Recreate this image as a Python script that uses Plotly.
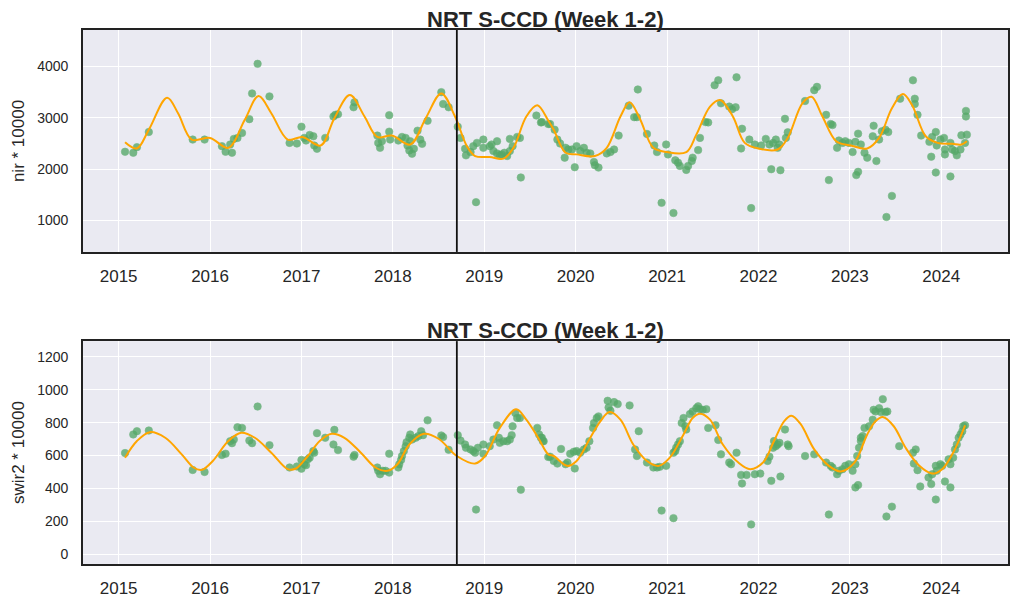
import plotly.graph_objects as go
from plotly.subplots import make_subplots

# ---------------- data (decimal years) ----------------
nir_t = [2015.07, 2015.16, 2015.20, 2015.33, 2015.81, 2015.94, 2016.13, 2016.17, 2016.22, 2016.24,
         2016.26, 2016.30, 2016.35, 2016.43, 2016.46, 2016.52, 2016.65, 2016.87, 2016.95, 2017.00,
         2017.03, 2017.05, 2017.09, 2017.13, 2017.14, 2017.17, 2017.26, 2017.35, 2017.37, 2017.40,
         2017.57, 2017.58, 2017.83, 2017.84, 2017.86, 2017.88, 2017.96, 2017.96, 2017.97, 2018.06,
         2018.10, 2018.14, 2018.16, 2018.18, 2018.21, 2018.23, 2018.19, 2018.27, 2018.30, 2018.32,
         2018.38, 2018.53, 2018.55, 2018.61, 2018.71, 2018.74, 2018.79, 2018.80, 2018.85, 2018.88,
         2018.91, 2018.92, 2018.99, 2018.99, 2019.06, 2019.08, 2019.14, 2019.10, 2019.14, 2019.17,
         2019.19, 2019.22, 2019.25, 2019.28, 2019.31, 2019.28, 2019.36, 2019.39, 2019.40, 2019.57,
         2019.62, 2019.70, 2019.63, 2019.72, 2019.77, 2019.80, 2019.83, 2019.89, 2019.88, 2019.92,
         2019.96, 2020.01, 2020.05, 2020.09, 2020.12, 2020.16, 2019.99, 2020.20, 2020.21, 2020.25,
         2020.34, 2020.38, 2020.42, 2020.47, 2020.58, 2020.64, 2020.67, 2020.68, 2020.78, 2020.86,
         2020.89, 2020.94, 2020.99, 2021.01, 2021.07, 2021.09, 2021.12, 2021.14, 2021.21, 2021.23,
         2021.27, 2021.28, 2021.34, 2021.36, 2021.42, 2021.45, 2021.52, 2021.56, 2021.59, 2021.68,
         2021.71, 2021.75, 2021.76, 2021.82, 2021.81, 2021.90, 2021.92, 2021.96, 2022.03, 2022.08,
         2022.12, 2022.14, 2022.16, 2022.19, 2022.21, 2022.23, 2022.24, 2022.29, 2022.30, 2022.32,
         2022.51, 2022.61, 2022.64, 2022.74, 2022.79, 2022.81, 2022.77, 2022.86, 2022.88, 2022.92,
         2022.95, 2022.99, 2023.03, 2023.06, 2023.07, 2023.09, 2023.09, 2023.12, 2023.16, 2023.19,
         2023.25, 2023.26, 2023.29, 2023.32, 2023.35, 2023.39, 2023.42, 2023.40, 2023.46, 2023.55,
         2023.69, 2023.71, 2023.71, 2023.74, 2023.78, 2023.87, 2023.89, 2023.90, 2023.94, 2023.95,
         2023.99, 2024.03, 2024.04, 2024.04, 2023.94, 2024.10, 2024.10, 2024.12, 2024.15, 2024.17,
         2024.21, 2024.22, 2024.26, 2024.28, 2024.27, 2024.27]
nir_v = [2337, 2318, 2427, 2722, 2575, 2575, 2446, 2337, 2478, 2318,
         2588, 2607, 2703, 2973, 3474, 4051, 3416, 2510, 2498, 2825,
         2607, 2556, 2665, 2639, 2459, 2395, 2607, 3024, 3056, 3069,
         3204, 3300, 2652, 2510, 2414, 2543, 3050, 2729, 2575, 2556,
         2626, 2607, 2459, 2363, 2299, 2395, 2543, 2748, 2575, 2491,
         2941, 3499, 3268, 3204, 2825, 2607, 2395, 2267, 2331, 2446,
         1355, 2510, 2414, 2575, 2446, 2478, 2543, 2350, 2305, 2267,
         2286, 2318, 2254, 2350, 2446, 2588, 2626, 2607, 1836, 3043,
         2909, 2877, 2915, 2877, 2767, 2575, 2498, 2414, 2222, 2382,
         2382, 2446, 2350, 2414, 2318, 2305, 2036, 2138, 2074, 2029,
         2305, 2331, 2382, 2652, 3236, 3011, 3011, 3551, 2684, 2459,
         2331, 1342, 2478, 2286, 1143, 2170, 2125, 2061, 1984, 2061,
         2157, 2222, 2369, 2607, 2915, 2909, 3634, 3730, 3281, 3217,
         3165, 3204, 3788, 2786, 2401, 2575, 1239, 2478, 2459, 2588,
         2478, 1997, 2510, 2575, 2414, 2478, 1978, 2979, 2607, 2716,
         3326, 3538, 3602, 3056, 2877, 2857, 1785, 2414, 2556, 2510,
         2543, 2510, 2331, 2530, 1882, 1946, 2690, 2478, 2318, 2222,
         2639, 2844, 2157, 2575, 2735, 2767, 2722, 1066, 1477, 3371,
         3730, 3371, 3268, 3056, 2652, 2530, 2241, 2626, 2722, 2459,
         2575, 2607, 2382, 2286, 1933, 1856, 2510, 2382, 2350, 2267,
         2382, 2658, 2510, 2671, 3133, 3024]

nir_fit_t = [2015.07, 2015.20, 2015.33, 2015.53, 2015.65, 2015.80, 2016.00, 2016.20, 2016.38, 2016.53,
             2016.67, 2016.85, 2017.01, 2017.21, 2017.36, 2017.53, 2017.69, 2017.83, 2017.99, 2018.19,
             2018.36, 2018.53, 2018.68, 2018.81, 2018.90, 2019.06, 2019.21, 2019.32, 2019.46, 2019.58,
             2019.70, 2019.76, 2019.89, 2020.01, 2020.21, 2020.34, 2020.49, 2020.59, 2020.70, 2020.85,
             2021.00, 2021.21, 2021.32, 2021.47, 2021.58, 2021.72, 2021.85, 2022.01, 2022.21, 2022.32,
             2022.48, 2022.58, 2022.70, 2022.85, 2023.01, 2023.19, 2023.32, 2023.46, 2023.58, 2023.68,
             2023.83, 2023.96, 2024.12, 2024.22, 2024.28]
nir_fit_v = [2523, 2401, 2767, 3390, 3088, 2575, 2607, 2414, 2960, 3422,
             3088, 2575, 2626, 2459, 2992, 3441, 3024, 2626, 2652, 2478,
             2992, 3474, 3024, 2446, 2254, 2235, 2203, 2414, 3024, 3242,
             2947, 2767, 2318, 2286, 2254, 2414, 3024, 3300, 2992, 2414,
             2331, 2331, 2671, 3217, 3345, 3024, 2510, 2395, 2382, 2607,
             3281, 3409, 3024, 2543, 2459, 2401, 2607, 3185, 3461, 3249,
             2639, 2510, 2491, 2478, 2543]

swir_t = [2015.07, 2015.16, 2015.20, 2015.33, 2015.81, 2015.94, 2016.13, 2016.17, 2016.22, 2016.24,
          2016.26, 2016.30, 2016.35, 2016.43, 2016.46, 2016.52, 2016.65, 2016.87, 2016.95, 2017.00,
          2017.00, 2017.03, 2017.05, 2017.07, 2017.09, 2017.13, 2017.14, 2017.17, 2017.26, 2017.36,
          2017.35, 2017.40, 2017.57, 2017.58, 2017.83, 2017.84, 2017.86, 2017.89, 2017.92, 2017.96,
          2017.96, 2018.06, 2018.07, 2018.09, 2018.10, 2018.12, 2018.14, 2018.15, 2018.18, 2018.19,
          2018.21, 2018.25, 2018.28, 2018.31, 2018.33, 2018.38, 2018.53, 2018.55, 2018.61, 2018.71,
          2018.74, 2018.79, 2018.80, 2018.85, 2018.88, 2018.90, 2018.93, 2018.99, 2018.99, 2018.91,
          2019.06, 2019.10, 2019.14, 2019.16, 2019.17, 2019.21, 2019.25, 2019.28, 2019.30, 2019.31,
          2019.34, 2019.36, 2019.39, 2019.40, 2019.58, 2019.60, 2019.62, 2019.64, 2019.70, 2019.63,
          2019.65, 2019.72, 2019.76, 2019.80, 2019.84, 2019.89, 2019.91, 2019.94, 2019.99, 2019.98,
          2020.01, 2020.05, 2020.09, 2020.12, 2020.15, 2020.19, 2020.20, 2020.23, 2020.25, 2020.35,
          2020.36, 2020.38, 2020.42, 2020.46, 2020.59, 2020.65, 2020.67, 2020.69, 2020.78, 2020.85,
          2020.89, 2020.92, 2020.99, 2020.94, 2021.07, 2021.07, 2021.09, 2021.10, 2021.12, 2021.14,
          2021.16, 2021.18, 2021.20, 2021.21, 2021.25, 2021.28, 2021.32, 2021.34, 2021.36, 2021.39,
          2021.43, 2021.45, 2021.53, 2021.56, 2021.59, 2021.68, 2021.70, 2021.76, 2021.81, 2021.82,
          2021.87, 2021.92, 2021.96, 2022.02, 2022.10, 2022.12, 2022.14, 2022.16, 2022.17, 2022.19,
          2022.21, 2022.23, 2022.24, 2022.29, 2022.32, 2022.33, 2022.51, 2022.61, 2022.74, 2022.77,
          2022.79, 2022.81, 2022.86, 2022.88, 2022.92, 2022.95, 2022.99, 2023.03, 2023.06, 2023.09,
          2023.06, 2023.08, 2023.10, 2023.12, 2023.12, 2023.14, 2023.16, 2023.21, 2023.25, 2023.26,
          2023.28, 2023.32, 2023.34, 2023.36, 2023.39, 2023.41, 2023.40, 2023.46, 2023.54, 2023.69,
          2023.72, 2023.70, 2023.74, 2023.77, 2023.86, 2023.89, 2023.90, 2023.94, 2023.95, 2023.99,
          2024.01, 2023.94, 2024.04, 2024.10, 2024.08, 2024.10, 2024.13, 2024.15, 2024.17, 2024.19,
          2024.21, 2024.23, 2024.24, 2024.26]
swir_v = [615, 728, 748, 752, 512, 500, 603, 611, 687, 675,
          697, 772, 768, 691, 675, 898, 663, 527, 533, 573,
          520, 547, 541, 577, 587, 627, 617, 736, 708, 756,
          667, 633, 593, 603, 527, 507, 486, 507, 507, 496,
          611, 527, 547, 573, 597, 627, 657, 681, 708, 728,
          697, 708, 718, 748, 724, 814, 722, 712, 635, 724,
          691, 667, 647, 637, 627, 617, 647, 611, 667, 271,
          657, 697, 784, 708, 677, 687, 687, 697, 724, 778,
          858, 828, 828, 392, 768, 728, 708, 688, 591, 708,
          687, 593, 567, 551, 640, 547, 557, 611, 521, 623,
          627, 617, 637, 647, 687, 768, 798, 828, 838, 933,
          892, 872, 925, 913, 905, 637, 597, 748, 557, 527,
          527, 531, 537, 265, 219, 617, 627, 647, 667, 687,
          798, 828, 778, 758, 852, 868, 888, 899, 882, 878,
          882, 768, 784, 695, 607, 557, 547, 617, 482, 430,
          482, 181, 486, 490, 567, 593, 446, 647, 688, 657,
          667, 677, 472, 758, 667, 657, 597, 607, 557, 241,
          537, 527, 486, 507, 517, 537, 547, 507, 406, 420,
          547, 597, 647, 688, 708, 718, 768, 778, 818, 878,
          868, 888, 864, 943, 864, 868, 229, 289, 657, 617,
          637, 551, 511, 412, 466, 426, 486, 537, 507, 547,
          537, 332, 442, 406, 577, 547, 587, 637, 667, 708,
          728, 748, 778, 784]

swir_fit_t = [2015.07, 2015.20, 2015.34, 2015.51, 2015.69, 2015.82, 2015.91, 2016.03, 2016.20, 2016.34,
              2016.49, 2016.67, 2016.85, 2016.94, 2017.07, 2017.20, 2017.33, 2017.47, 2017.65, 2017.81,
              2017.94, 2018.05, 2018.18, 2018.34, 2018.50, 2018.70, 2018.90, 2019.01, 2019.17, 2019.35,
              2019.46, 2019.59, 2019.70, 2019.76, 2019.91, 2020.01, 2020.16, 2020.27, 2020.37, 2020.49,
              2020.63, 2020.78, 2020.91, 2021.03, 2021.18, 2021.28, 2021.36, 2021.47, 2021.61, 2021.78,
              2021.91, 2022.05, 2022.17, 2022.28, 2022.36, 2022.46, 2022.61, 2022.77, 2022.90, 2023.05,
              2023.19, 2023.28, 2023.36, 2023.48, 2023.61, 2023.76, 2023.90, 2024.01, 2024.12, 2024.19,
              2024.26]
swir_fit_v = [587, 688, 742, 708, 607, 527, 513, 567, 688, 738,
              708, 617, 517, 521, 597, 688, 732, 708, 617, 527,
              507, 547, 667, 732, 702, 597, 551, 597, 768, 882,
              818, 708, 607, 597, 537, 567, 708, 808, 864, 818,
              667, 567, 537, 587, 728, 828, 854, 818, 667, 557,
              517, 557, 688, 808, 842, 792, 637, 537, 503, 557,
              728, 808, 834, 778, 647, 537, 490, 517, 607, 688,
              784]

break_t = 2018.70
year_ticks = [2015, 2016, 2017, 2018, 2019, 2020, 2021, 2022, 2023, 2024]
title_text = "NRT S-CCD (Week 1-2)"

# ---------------- figure ----------------
fig = make_subplots(rows=2, cols=1, vertical_spacing=0.1671)

GREEN = "#55a868"
ORANGE = "#FFA500"

def add_panel(row, t, v, ft, fv):
    fig.add_trace(go.Scatter(x=t, y=v, mode="markers",
                             marker=dict(color=GREEN, size=7.5, opacity=0.78,
                                         line=dict(width=0.6, color=GREEN)),
                             showlegend=False, hoverinfo="skip"), row=row, col=1)
    fig.add_trace(go.Scatter(x=ft, y=fv, mode="lines", line=dict(color=ORANGE, width=2, shape="spline", smoothing=1.0),
                             showlegend=False, hoverinfo="skip"), row=row, col=1)

add_panel(1, nir_t, nir_v, nir_fit_t, nir_fit_v)
add_panel(2, swir_t, swir_v, swir_fit_t, swir_fit_v)

axis_common = dict(showgrid=True, gridcolor="white", gridwidth=1.2, zeroline=False,
                   showline=True, linecolor="#222222", linewidth=1.8, mirror=True,
                   ticks="outside", tickcolor="rgba(0,0,0,0)")

for r in (1, 2):
    fig.update_xaxes(range=[2014.61, 2024.73], tickvals=year_ticks,
                     ticktext=[str(y) for y in year_ticks], ticklen=8,
                     tickfont=dict(size=17, color="#262626"), row=r, col=1, **axis_common)

fig.update_yaxes(range=[385, 4710], tickvals=[1000, 2000, 3000, 4000], ticklen=10,
                 tickfont=dict(size=14, color="#262626"),
                 title=dict(text="nir * 10000", font=dict(size=17, color="#262626"), standoff=8),
                 row=1, col=1, **axis_common)
fig.update_yaxes(range=[-60, 1296], tickvals=[0, 200, 400, 600, 800, 1000, 1200], ticklen=10,
                 tickfont=dict(size=14, color="#262626"),
                 title=dict(text="swir2 * 10000", font=dict(size=17, color="#262626"), standoff=8),
                 row=2, col=1, **axis_common)

fig.update_layout(yaxis=dict(domain=[0.5844, 1.0]), yaxis2=dict(domain=[0.0, 0.4174]))

for r, yref in ((1, "y domain"), (2, "y2 domain")):
    fig.add_shape(type="line", x0=break_t, x1=break_t, y0=0, y1=1,
                  xref="x" if r == 1 else "x2", yref=yref,
                  line=dict(color="#111111", width=1.8))

for ytop in (1.0, 0.4174):
    fig.add_annotation(text="<b>" + title_text + "</b>", x=0.5, y=ytop, xref="paper", yref="paper",
                       xanchor="center", yanchor="bottom", showarrow=False, yshift=-4,
                       font=dict(size=22, color="#262626"))

fig.update_layout(width=1020, height=608, margin=dict(l=83, r=10, t=30, b=39),
                  paper_bgcolor="white", plot_bgcolor="#EAEAF2",
                  font=dict(family="Liberation Sans, Arial, sans-serif", color="#262626"))

fig.write_html("out.html")
